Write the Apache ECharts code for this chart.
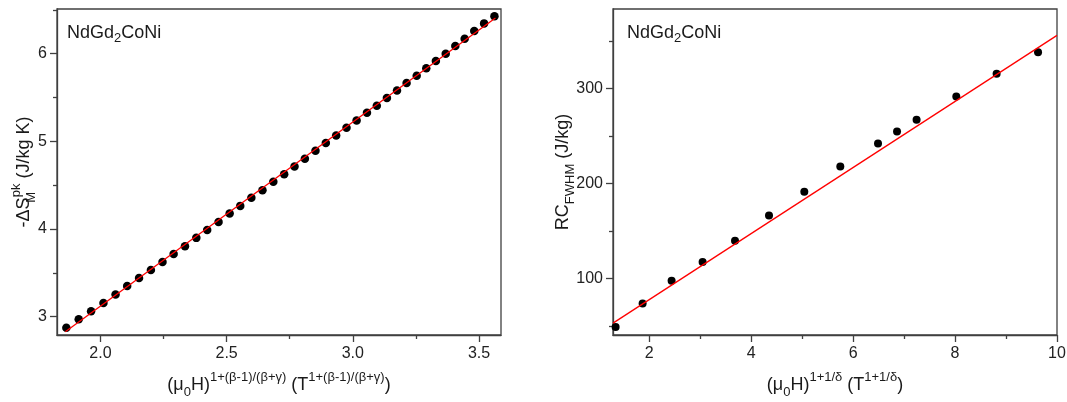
<!DOCTYPE html>
<html>
<head>
<meta charset="utf-8">
<script src="https://cdn.jsdelivr.net/npm/echarts@6/dist/echarts.min.js"></script>
<style>
html,body{margin:0;padding:0;background:#fff;}
#c{width:1067px;height:402px;}
</style>
</head>
<body>
<div id="c"></div>
<script>
// ---- Left panel data: -ΔS_M^pk vs field term ----
const leftX = [1.865,1.914,1.963,2.012,2.060,2.106,2.153,2.200,2.246,2.290,2.335,2.380,2.423,2.468,2.512,2.554,2.598,2.642,2.685,2.728,2.769,2.810,2.852,2.893,2.934,2.975,3.015,3.056,3.095,3.135,3.175,3.213,3.253,3.291,3.329,3.368,3.406,3.443,3.481,3.520,3.561];
const leftY = [2.875,2.970,3.061,3.156,3.252,3.351,3.442,3.533,3.625,3.716,3.804,3.899,3.990,4.081,4.177,4.264,4.356,4.443,4.538,4.626,4.713,4.801,4.892,4.980,5.067,5.155,5.239,5.326,5.406,5.494,5.581,5.665,5.749,5.833,5.916,6.000,6.088,6.171,6.259,6.346,6.426];
const leftFitX = [1.861, 3.565];
const leftFitY = [2.829, 6.408];
const leftXTicks = [2.0, 2.5, 3.0, 3.5];
const leftYTicks = [3, 4, 5, 6];

// ---- Right panel data: RC_FWHM vs field term ----
const rightX = [1.339,1.869,2.438,3.046,3.682,4.349,5.042,5.748,6.488,6.861,7.245,8.024,8.815,9.628];
const rightY = [48.8,73.6,97.6,117.3,139.7,166.4,191.4,218.1,242.3,255.0,267.3,291.9,315.8,338.3];
const rightFitX = [1.288, 10];
const rightFitY = [53.0, 356.2];
const rightXTicks = [2, 4, 6, 8, 10];
const rightYTicks = [100, 200, 300];

const FONT = '"Liberation Sans", Arial, sans-serif';
const AX = '#404040';
const TXT = '#1a1a1a';

const nameRich = {
  m:   {fontSize: 18, lineHeight: 28, fontFamily: FONT, color: TXT},
  sup: {fontSize: 13, lineHeight: 13, verticalAlign: 'top', fontFamily: FONT, color: TXT},
  sub: {fontSize: 13, lineHeight: 18, verticalAlign: 'bottom', fontFamily: FONT, color: TXT},
  subz:{fontSize: 13, lineHeight: 18, verticalAlign: 'bottom', fontFamily: FONT, color: TXT, width: 0.1, align: 'left'}
};

function pair(xs, ys) { return xs.map((x, i) => [x, ys[i]]); }

function axis(gridIndex, position, min, max, step, ticks, fmt, margin, name, nameGap) {
  return {
    type: 'value', gridIndex, position, min, max,
    minInterval: step, maxInterval: step,
    axisLine: {show: true, onZero: false, lineStyle: {color: AX, width: 1.3}},
    axisTick: {show: true, inside: false, length: 7, customValues: ticks, lineStyle: {color: AX, width: 1.3}},
    minorTick: {show: true, splitNumber: 2, length: 4, lineStyle: {color: AX, width: 1.3}},
    axisLabel: {show: true, customValues: ticks, formatter: fmt, fontSize: 16, fontFamily: FONT, color: '#222', margin: margin},
    splitLine: {show: false},
    minorSplitLine: {show: false},
    name: name,
    nameGap: nameGap,
    nameLocation: 'middle',
    nameMoveOverlap: false,
    nameTextStyle: {rich: nameRich}
  };
}

const chart = echarts.init(document.getElementById('c'), null, {renderer: 'canvas'});
const titleRich = {
  a: {fontSize: 18, lineHeight: 24, fontWeight: 'normal', fontFamily: FONT, color: TXT},
  s: {fontSize: 13, lineHeight: 14, fontWeight: 'normal', verticalAlign: 'bottom', fontFamily: FONT, color: TXT}
};
const titleText = '{a|NdGd}{s|2}{a|CoNi}';

chart.setOption({
  animation: false,
  backgroundColor: '#fff',
  title: [
    {text: titleText, left: 67, top: 21, padding: 0, textStyle: {fontWeight: 'normal', rich: titleRich}},
    {text: titleText, left: 627, top: 21, padding: 0, textStyle: {fontWeight: 'normal', rich: titleRich}}
  ],
  grid: [
    {left: 57, top: 9, width: 444, height: 326, containLabel: false, outerBoundsMode: 'none', show: true, borderColor: AX, borderWidth: 1.3, backgroundColor: 'transparent'},
    {left: 613, top: 9, width: 444, height: 326, containLabel: false, outerBoundsMode: 'none', show: true, borderColor: AX, borderWidth: 1.3, backgroundColor: 'transparent'}
  ],
  xAxis: [
    axis(0, 'bottom', 1.828, 3.587, 0.5, leftXTicks, v => v.toFixed(1), 11,
      '{m|(μ}{sub|0}{m|H)}{sup|1+(β-1)/(β+γ)}{m| (T}{sup|1+(β-1)/(β+γ)}{m|)}', 36),
    axis(1, 'bottom', 1.288, 10, 2, rightXTicks, v => String(v), 11,
      '{m|(μ}{sub|0}{m|H)}{sup|1+1/δ}{m| (T}{sup|1+1/δ}{m|)}', 36)
  ],
  yAxis: [
    axis(0, 'left', 2.791, 6.51, 1, leftYTicks, v => String(v), 10,
      '{m|-ΔS}{subz|M}{sup|pk}{m| (J/kg K)}', 19),
    axis(1, 'left', 40.5, 384, 100, rightYTicks, v => String(v), 10,
      '{m|RC}{sub|FWHM}{m| (J/kg)}', 36)
  ],
  series: [
    {type: 'scatter', xAxisIndex: 0, yAxisIndex: 0, data: pair(leftX, leftY), symbol: 'circle', symbolSize: 8.5, itemStyle: {color: '#000', opacity: 1}, z: 2},
    {type: 'line', xAxisIndex: 0, yAxisIndex: 0, data: pair(leftFitX, leftFitY), showSymbol: false, symbol: 'none', lineStyle: {color: '#ff0000', width: 1.3}, z: 3},
    {type: 'scatter', xAxisIndex: 1, yAxisIndex: 1, data: pair(rightX, rightY), symbol: 'circle', symbolSize: 8, itemStyle: {color: '#000', opacity: 1}, z: 2},
    {type: 'line', xAxisIndex: 1, yAxisIndex: 1, data: pair(rightFitX, rightFitY), showSymbol: false, symbol: 'none', lineStyle: {color: '#ff0000', width: 1.3}, z: 3}
  ]
});
</script>
</body>
</html>
